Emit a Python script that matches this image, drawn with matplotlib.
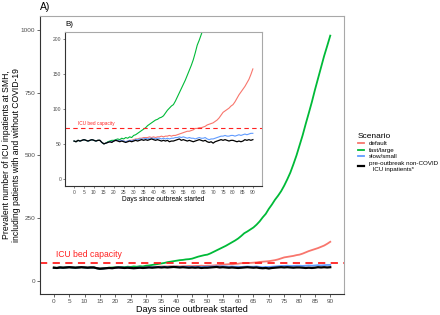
import numpy as np
import matplotlib.pyplot as plt

plt.rcParams['font.family'] = ['Liberation Sans', 'DejaVu Sans']

days = list(range(91))

pre_outbreak = [54, 53, 55, 54, 55, 56, 55, 54, 55, 56,
                55, 54, 55, 55, 52, 50, 51, 52, 53, 52,
                54, 55, 54, 53, 54, 53, 52, 53, 54, 53,
                54, 55, 54, 55, 56, 55, 56, 55, 56, 57,
                56, 55, 56, 55, 54, 55, 54, 55, 53, 54,
                54, 55, 56, 57, 55, 56, 55, 54, 55, 54,
                53, 54, 55, 56, 55, 54, 55, 53, 52, 53,
                51, 53, 54, 55, 56, 55, 56, 55, 54, 55,
                55, 54, 53, 54, 53, 54, 56, 55, 56, 55, 56]

slow_small = [54, 53, 55, 54, 55, 56, 55, 54, 55, 56,
              55, 54, 55, 55, 52, 50, 51, 52, 53, 53,
              54, 55, 55, 54, 55, 54, 53, 54, 55, 54,
              55, 56, 56, 57, 57, 57, 58, 57, 58, 58,
              58, 57, 58, 58, 57, 58, 57, 58, 57, 58,
              58, 59, 59, 60, 59, 60, 59, 58, 59, 58,
              58, 57, 58, 59, 58, 58, 59, 57, 56, 57,
              57, 58, 59, 60, 61, 61, 62, 61, 61, 62,
              62, 61, 62, 63, 62, 63, 64, 63, 64, 65, 65]

default = [54, 53, 55, 54, 55, 56, 55, 54, 55, 56,
           55, 54, 55, 55, 52, 50, 51, 52, 53, 53,
           54, 55, 55, 54, 55, 54, 53, 54, 55, 55,
           56, 57, 57, 58, 58, 59, 59, 59, 60, 59,
           60, 59, 60, 60, 61, 60, 61, 61, 62, 61,
           62, 62, 63, 64, 65, 66, 67, 68, 68, 69,
           70, 72, 72, 73, 73, 74, 75, 77, 78, 79,
           80, 82, 84, 87, 91, 95, 97, 99, 101, 104,
           106, 110, 115, 120, 124, 128, 132, 137, 142, 149, 157]

fast_large = [54, 53, 55, 54, 55, 56, 55, 54, 55, 56, 55, 54, 55, 55, 52,
              50, 51, 53, 54, 55, 55, 56, 57, 56, 58, 57, 59, 58, 60, 59,
              62, 63, 65, 67, 69, 71, 73, 76, 78, 80, 82, 84, 85, 87, 88, 90, 94, 98, 101, 104,
              106, 111, 117, 123, 129, 135, 141, 148, 155, 162, 170, 180, 191, 198, 206, 214, 225, 238, 254, 268,
              288, 305, 324, 340, 358, 380, 405, 432, 465, 500, 540, 580, 625, 668, 712, 760, 805, 850, 895, 935, 976]

icu_capacity = 73

col_default = '#F8766D'
col_fast = '#00BA38'
col_slow = '#619CFF'
grey_txt = '#4D4D4D'

fig = plt.figure(figsize=(4.4, 3.15), dpi=100)

def draw(ax, lw, lw_black):
    ax.plot(days, default, color=col_default, lw=lw, label='default')
    ax.plot(days, fast_large, color=col_fast, lw=lw, label='fast/large')
    ax.plot(days, slow_small, color=col_slow, lw=lw, label='slow/small')
    ax.plot(days, pre_outbreak, color='black', lw=lw_black,
            label='pre-outbreak non-COVID\n  ICU inpatients*')
    ax.axhline(icu_capacity, color='#FF2020', ls=(0, (4, 3)), lw=lw)
    ax.set_xticks(range(0, 91, 5))
    ax.set_xlim(-4.5, 94.5)
    for s in ['top', 'right']:
        ax.spines[s].set_color('#A8A8A8')
    for s in ['left', 'bottom']:
        ax.spines[s].set_color('#333333')
    for s in ax.spines.values():
        s.set_linewidth(0.8)

# main panel
ax = fig.add_axes([0.091, 0.067, 0.691, 0.883])
draw(ax, 1.3, 1.6)
ax.set_ylim(-50, 1055)
ax.set_yticks([0, 250, 500, 750, 1000])
ax.tick_params(labelsize=4.6, colors=grey_txt, length=2, width=0.6, pad=1.5)
ax.set_xlabel('Days since outbreak started', fontsize=6.5, labelpad=1)
ax.set_ylabel('Prevalent number of ICU inpatients at SMH,\nincluding patients with and without COVID-19',
              fontsize=6.2, linespacing=1.1)
ax.yaxis.set_label_coords(-0.062, 0.5)
ax.text(0.6, 90, 'ICU bed capacity', color='#FF2020', fontsize=6.2, va='bottom')

leg = ax.legend(loc='upper left', bbox_to_anchor=(352 / 440, 1 - 127 / 315),
                bbox_transform=fig.transFigure, frameon=False,
                title='Scenario', fontsize=4.5, title_fontsize=6,
                handlelength=1.0, handletextpad=0.8, labelspacing=0.2)
leg._legend_box.align = 'left'

# inset panel
ins = fig.add_axes([0.148, 0.410, 0.447, 0.489])
draw(ins, 0.8, 0.9)
ins.set_ylim(-10, 210)
ins.set_yticks([0, 50, 100, 150, 200])
ins.tick_params(labelsize=3.6, colors=grey_txt, length=1.5, width=0.5, pad=1.2)
ins.set_xlabel('Days since outbreak started', fontsize=4.8, labelpad=1)
ins.text(2, 75, 'ICU bed capacity', color='#FF2020', fontsize=3.4, va='bottom')

fig.text(40 / 440, 1 - 7 / 315, 'A)', fontsize=7.5, va='center')
fig.text(65 / 440, 1 - 25 / 315, 'B)', fontsize=5.8, va='center')

fig.savefig('out.png', dpi=100)
